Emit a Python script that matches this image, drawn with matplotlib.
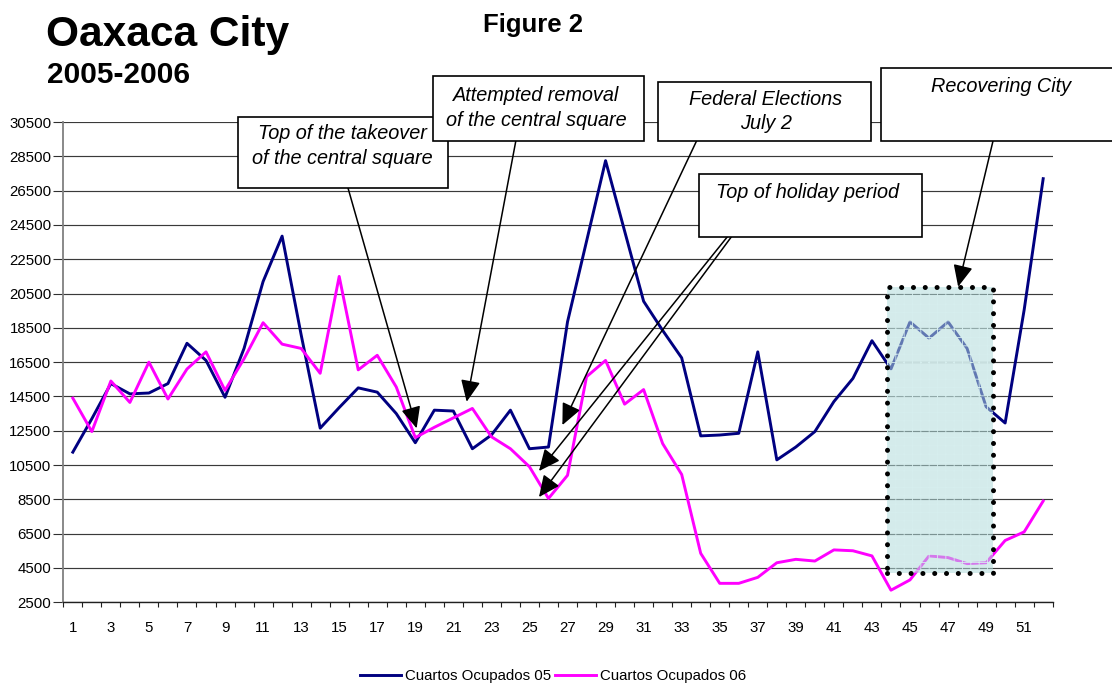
import matplotlib
matplotlib.use("Agg")
import matplotlib.pyplot as plt
from matplotlib.patches import Rectangle
import numpy as np

plt.rcParams['font.family'] = ['Liberation Sans', 'DejaVu Sans']
plt.rcParams['hatch.linewidth'] = 0.6

# ---------------- data ----------------
weeks = list(range(1, 53))
occ05 = [11250, 13200, 15250, 14650, 14700, 15250, 17600, 16600, 14450, 17300,
         21200, 23850, 18100, 12650, 13850, 15000, 14750, 13500, 11800, 13700,
         13650, 11450, 12250, 13700, 11450, 11550, 18850, 23550, 28250, 24150,
         20050, 18350, 16750, 12200, 12250, 12350, 17100, 10800, 11550, 12450,
         14200, 15550, 17750, 16100, 18850, 17900, 18850, 17300, 13900, 12950,
         19550, 27200]
occ06 = [14400, 12450, 15400, 14150, 16500, 14350, 16100, 17100, 14850, 16700,
         18800, 17550, 17300, 15850, 21500, 16050, 16900, 15050, 12100, 12700,
         13250, 13800, 12150, 11450, 10400, 8550, 9900, 15650, 16600, 14050,
         14900, 11750, 9950, 5350, 3600, 3600, 3950, 4800, 5000, 4900,
         5550, 5500, 5200, 3200, 3800, 5200, 5100, 4750, 4800, 6100,
         6600, 8400]
series_labels = ["Cuartos Ocupados 05", "Cuartos Ocupados 06"]
y_ticks = list(range(2500, 30501, 2000))
x_tick_weeks = list(range(1, 53, 2))

title = "Oaxaca City"
subtitle = "2005-2006"
fig_label = "Figure 2"

# annotation texts and their arrow targets (week, rooms)
notes = ["Top of the takeover\nof the central square",
         "Attempted removal\nof the central square",
         "Federal Elections\nJuly 2",
         "Top of holiday period",
         "Recovering City"]
arrow_targets = [[(19.07, 12640)],
                 [(21.7, 14190)],
                 [(26.73, 12830)],
                 [(25.5, 10150), (25.5, 8630)],
                 [(47.53, 20900)]]
highlight = (43.81, 49.37, 4185, 20908)   # week range, rooms range

# ---------------- layout ----------------
W, H = 1112, 685
fig = plt.figure(figsize=(W / 100, H / 100), dpi=100)
fig.patch.set_facecolor('white')


def fx(x):
    return x / W


def fy(y):
    return 1 - y / H


ax_l, ax_r, ax_t, ax_b = 63.3, 1052.7, 122.1, 602.2
ax = fig.add_axes([fx(ax_l), fy(ax_b), (ax_r - ax_l) / W, (ax_b - ax_t) / H])
ax.set_xlim(0.5, 52.5)
ax.set_ylim(2500, 30500)

ax.set_yticks(y_ticks)
ax.set_yticklabels([str(v) for v in y_ticks])
ax.yaxis.grid(True, color='#3a3a3a', lw=0.85)
ax.set_axisbelow(True)
ax.tick_params(axis='y', direction='out', length=7, width=0.8, color='#303030',
               pad=1.5, labelsize=10.8)

ax.set_xticks(x_tick_weeks)
ax.set_xticklabels([str(w) for w in x_tick_weeks])
ax.set_xticks(np.arange(0.5, 53, 1), minor=True)
ax.tick_params(axis='x', which='major', length=0, pad=13.5, labelsize=10.8)
ax.tick_params(axis='x', which='minor', direction='out', length=3.5, width=0.8, color='#202020')

for s in ['top', 'right']:
    ax.spines[s].set_visible(False)
ax.spines['left'].set_color('#808080')
ax.spines['left'].set_linewidth(1.3)
ax.spines['bottom'].set_color('#202020')
ax.spines['bottom'].set_linewidth(1.0)

l1, = ax.plot(weeks, occ05, color='#000080', lw=2.1, zorder=3, label=series_labels[0])
l2, = ax.plot(weeks, occ06, color='#ff00ff', lw=2.1, zorder=3, label=series_labels[1])

# highlighted region
hx0, hx1, hy0, hy1 = highlight
ax.add_patch(Rectangle((hx0, hy0), hx1 - hx0, hy1 - hy0, facecolor='#b2dcdc',
                       alpha=0.55, edgecolor='none', zorder=4))
ax.add_patch(Rectangle((hx0, hy0), hx1 - hx0, hy1 - hy0, fill=False, hatch='++',
                       edgecolor='#d6eeee', lw=0, zorder=4))
ax.plot([hx0, hx1, hx1, hx0, hx0], [hy0, hy0, hy1, hy1, hy0], color='black', lw=3.6,
        linestyle=(0, (0.01, 2.35)), dash_capstyle='round', zorder=5)

# ---------------- annotation boxes ----------------
boxes = [(238, 117, 448, 188), (433, 76, 644, 140.7), (657.7, 81.7, 870.7, 140.7),
         (699, 174.3, 922.3, 236.7), (880.7, 68.3, 1120, 140.7)]
text_pos = [(342, 146), (536, 108), (766, 111.5), (807, 193), (1001, 87)]
arrow_starts = [[(348, 188)], [(516, 140)], [(697, 140)],
                [(728, 236), (732, 236)], [(993, 141)]]

for i, (b, tp, note) in enumerate(zip(boxes, text_pos, notes)):
    z = 10 + 2 * i
    x0, y0, x1, y1 = b
    fig.add_artist(Rectangle((fx(x0), fy(y1)), (x1 - x0) / W, (y1 - y0) / H,
                             transform=fig.transFigure, facecolor='white',
                             edgecolor='black', lw=1.2, zorder=z))
    fig.text(fx(tp[0]), fy(tp[1]), note, ha='center', va='center', style='italic',
             fontsize=14.3, linespacing=1.35, zorder=z + 1)

for starts, targets in zip(arrow_starts, arrow_targets):
    for (sx, sy), (tx, ty) in zip(starts, targets):
        ax.annotate('', xy=(tx, ty), xycoords='data',
                    xytext=(fx(sx), fy(sy)), textcoords='figure fraction',
                    arrowprops=dict(arrowstyle='-|>,head_length=1.1,head_width=0.5',
                                    mutation_scale=12, color='black', lw=1.1,
                                    shrinkA=0, shrinkB=0),
                    annotation_clip=False, zorder=6)

# ---------------- titles ----------------
fig.text(fx(46), fy(46), title, fontsize=30.6, fontweight='bold', va='baseline')
fig.text(fx(47), fy(83), subtitle, fontsize=21.5, fontweight='bold', va='baseline')
fig.text(fx(483), fy(32), fig_label, fontsize=18.5, fontweight='bold', va='baseline')

# ---------------- legend ----------------
fig.legend(handles=[l1, l2], labels=series_labels, loc='center',
           bbox_to_anchor=(fx(553), fy(676)), ncol=2, frameon=False, fontsize=10.8,
           handlelength=2.7, handletextpad=0.25, columnspacing=0.3)

fig.savefig('out.png', dpi=100)
